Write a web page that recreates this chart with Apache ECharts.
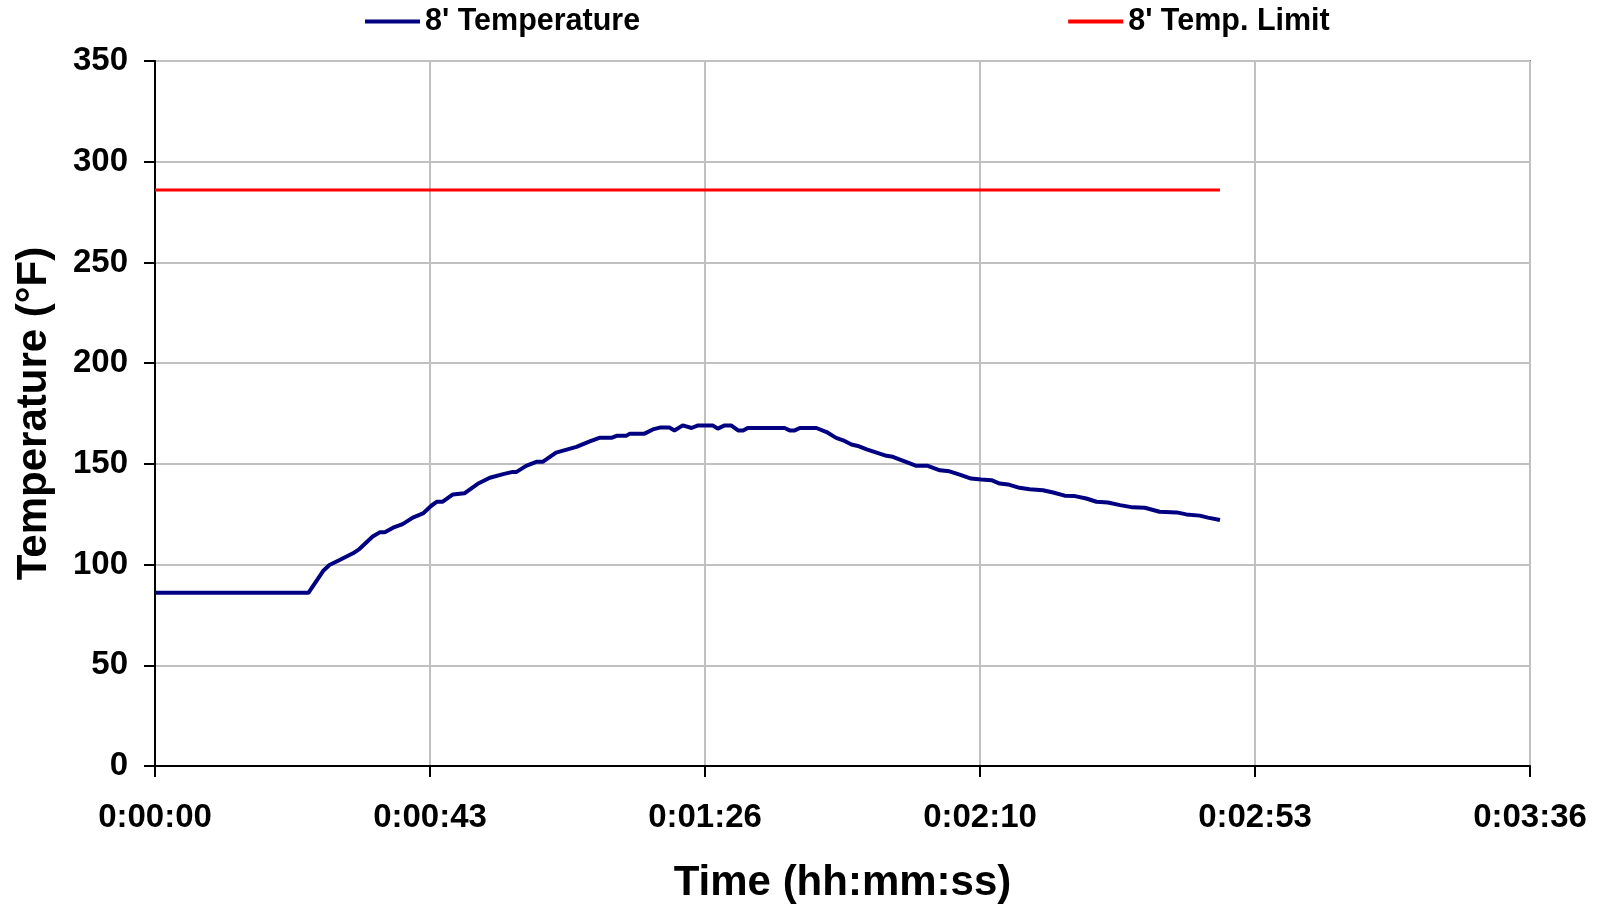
<!DOCTYPE html>
<html>
<head>
<meta charset="utf-8">
<script src="https://cdn.jsdelivr.net/npm/echarts@6/dist/echarts.min.js"></script>
<style>html,body{margin:0;padding:0;background:#fff}#c{width:1604px;height:909px}</style>
</head>
<body>
<div id="c"></div>
<script>
// time in seconds
const tempTimes = [0, 24.1, 26.4, 27.4, 29.0, 31.1, 32.1, 34.2, 35.3, 36.1, 37.4, 38.9, 40.5, 42.1, 43.4, 44.3, 45.2, 46.8, 48.6, 50.7, 52.6, 54.7, 56.2, 56.8, 58.3, 59.9, 60.9, 63.0, 66.2, 68.3, 69.8, 71.7, 72.5, 74.0, 74.6, 76.9, 78.2, 79.3, 80.8, 81.6, 82.9, 84.3, 85.3, 87.6, 88.4, 89.5, 90.5, 91.6, 92.4, 93.1, 98.9, 99.7, 100.5, 101.3, 103.9, 105.5, 107.0, 108.1, 109.4, 110.4, 111.8, 114.9, 115.9, 119.6, 121.4, 123.3, 124.8, 126.4, 128.2, 129.8, 131.4, 132.7, 134.0, 135.8, 137.4, 139.5, 141.1, 142.9, 144.5, 146.3, 147.9, 149.7, 151.6, 153.6, 155.5, 157.8, 160.5, 162.0, 164.1, 165.4, 167.3];
const tempValues = [86, 86, 96.8, 99.8, 102.3, 105.6, 107.7, 113.9, 116, 116, 118.3, 120.1, 123.3, 125.4, 129.2, 131.2, 131.2, 134.8, 135.4, 140.1, 143.1, 144.9, 146, 146, 149, 151, 151, 155.6, 158.4, 161.2, 162.9, 162.9, 163.9, 163.9, 165, 165, 167.1, 168, 168, 166.6, 169.1, 167.8, 169.1, 169.1, 167.5, 169.1, 169.1, 166.6, 166.6, 167.8, 167.8, 166.6, 166.6, 167.8, 167.8, 165.8, 162.9, 161.7, 159.6, 158.9, 157.2, 154, 153.5, 149, 149, 146.8, 146.3, 144.7, 142.7, 142.2, 141.9, 140.2, 139.8, 138.1, 137.4, 136.9, 135.8, 134.2, 134.0, 132.8, 131.2, 130.8, 129.5, 128.4, 128.2, 126.2, 125.9, 124.9, 124.3, 123.3, 122.1];
const limitTimes = [0, 167.3];
const limitValues = [286, 286];
const seriesNames = ["8' Temperature", "8' Temp. Limit"];
const xMin = 0, xMax = 216, xInterval = 43.2;
const yMin = 0, yMax = 350, yInterval = 50;

function fmtTime(v) {
  const s = Math.round(v);
  const h = Math.floor(s / 3600);
  const m = Math.floor((s % 3600) / 60);
  const sec = s % 60;
  return h + ':' + String(m).padStart(2, '0') + ':' + String(sec).padStart(2, '0');
}

const font = 'Liberation Sans, Arial, sans-serif';
const chart = echarts.init(document.getElementById('c'), null, {renderer: 'canvas'});
chart.setOption({
  animation: false,
  backgroundColor: '#ffffff',
  legend: {
    top: 1,
    left: 360,
    itemGap: 428,
    itemWidth: 55,
    itemHeight: 4,
    icon: 'rect',
    textStyle: {fontFamily: font, fontWeight: 'bold', fontSize: 30.5, color: '#000'},
    data: seriesNames
  },
  grid: {
    left: 155, right: 74, top: 61, bottom: 141,
    show: true, borderColor: '#808080', borderWidth: 2, backgroundColor: 'transparent'
  },
  xAxis: {
    type: 'value', min: xMin, max: xMax, interval: xInterval,
    name: 'Time (hh:mm:ss)', nameLocation: 'middle', nameGap: 96,
    nameTextStyle: {fontFamily: font, fontWeight: 'bold', fontSize: 42, color: '#000'},
    axisLine: {show: true, onZero: false, lineStyle: {color: '#000', width: 2}},
    axisTick: {show: true, inside: false, length: 11, lineStyle: {color: '#000', width: 2}},
    axisLabel: {formatter: fmtTime, margin: 35, fontFamily: font, fontWeight: 'bold', fontSize: 33, color: '#000'},
    splitLine: {show: true, lineStyle: {color: '#c0c0c0', width: 2}}
  },
  yAxis: {
    type: 'value', min: yMin, max: yMax, interval: yInterval,
    name: 'Temperature (°F)', nameLocation: 'middle', nameGap: 100,
    nameTextStyle: {fontFamily: font, fontWeight: 'bold', fontSize: 42, color: '#000'},
    axisLine: {show: true, lineStyle: {color: '#000', width: 2}},
    axisTick: {show: true, inside: false, length: 11, lineStyle: {color: '#000', width: 2}},
    axisLabel: {margin: 27, fontFamily: font, fontWeight: 'bold', fontSize: 33, color: '#000'},
    splitLine: {show: true, lineStyle: {color: '#c0c0c0', width: 2}}
  },
  series: [
    {
      name: seriesNames[0], type: 'line', symbol: 'none', z: 3,
      color: '#000080',
      lineStyle: {color: '#000080', width: 4},
      data: tempTimes.map((t, i) => [t, tempValues[i]])
    },
    {
      name: seriesNames[1], type: 'line', symbol: 'none', z: 2,
      color: '#ff0000',
      lineStyle: {color: '#ff0000', width: 3},
      data: limitTimes.map((t, i) => [t, limitValues[i]])
    }
  ]
});
</script>
</body>
</html>
